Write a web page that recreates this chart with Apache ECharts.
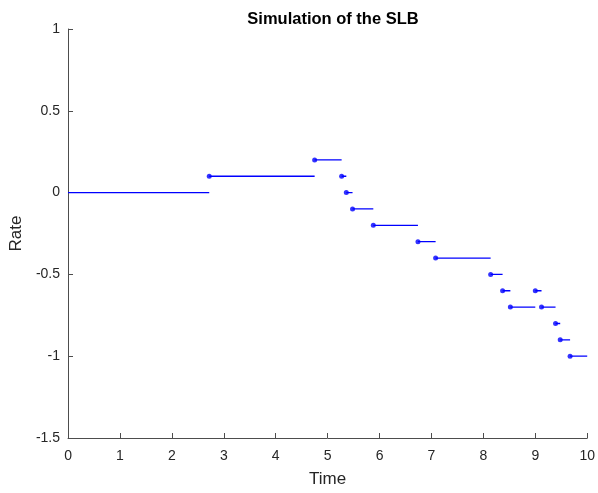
<!DOCTYPE html>
<html>
<head>
<meta charset="utf-8">
<script src="https://cdn.jsdelivr.net/npm/echarts@6/dist/echarts.min.js"></script>
<style>
  html, body { margin: 0; padding: 0; background: #fff; }
  #chart { width: 598px; height: 493px; }
</style>
</head>
<body>
<div id="chart"></div>
<script>
// step segments: start time, end time, rate
const starts = [0, 2.72, 4.75, 5.27, 5.36, 5.48, 5.88, 6.74, 7.08, 8.14, 8.37, 8.52, 9.00, 9.12, 9.39, 9.48, 9.67];
const ends   = [2.72, 4.75, 5.27, 5.36, 5.48, 5.88, 6.74, 7.08, 8.14, 8.37, 8.52, 9.00, 9.12, 9.39, 9.48, 9.67, 10];
const rates  = [0, 0.1, 0.2, 0.1, 0, -0.1, -0.2, -0.3, -0.4, -0.5, -0.6, -0.7, -0.6, -0.7, -0.8, -0.9, -1];
// first segment has no marker
const dotted = [false, true, true, true, true, true, true, true, true, true, true, true, true, true, true, true, true];

const xTicks = [0, 1, 2, 3, 4, 5, 6, 7, 8, 9, 10];
const yTicks = [-1.5, -1, -0.5, 0, 0.5, 1];

const lineData = [];
const dotData = [];
for (let i = 0; i < starts.length; i++) {
  lineData.push([starts[i], rates[i]]);
  lineData.push([ends[i], rates[i]]);
  lineData.push([ends[i], '-']);
  if (dotted[i]) dotData.push([starts[i], rates[i]]);
}

const textColor = '#262626';
const lineColor = '#4d4d4d';
const font = 'Liberation Sans, Arial, sans-serif';

const chart = echarts.init(document.getElementById('chart'), null, { renderer: 'canvas' });
chart.setOption({
  animation: false,
  backgroundColor: '#fff',
  title: {
    text: 'Simulation of the SLB',
    left: 328,
    textAlign: 'center',
    top: 6,
    textStyle: { fontFamily: font, fontSize: 16.5, fontWeight: 'bold', color: '#000' }
  },
  grid: { left: 67, right: 9, top: 29, bottom: 54 },
  xAxis: {
    type: 'value',
    min: 0, max: 10, interval: 1,
    name: 'Time',
    nameLocation: 'middle',
    nameGap: 33,
    nameTextStyle: { fontFamily: font, fontSize: 17, color: textColor },
    axisLine: { show: true, onZero: false, lineStyle: { color: lineColor, width: 1 } },
    axisTick: { show: true, inside: true, length: 5, lineStyle: { color: lineColor } },
    axisLabel: { fontFamily: font, fontSize: 14, color: textColor, margin: 11,
      formatter: v => xTicks.includes(v) ? String(v) : '' },
    splitLine: { show: false }
  },
  yAxis: {
    type: 'value',
    min: -1.5, max: 1, interval: 0.5,
    name: 'Rate',
    nameLocation: 'middle',
    nameGap: 42,
    nameTextStyle: { fontFamily: font, fontSize: 17, color: textColor },
    axisLine: { show: true, onZero: false, lineStyle: { color: lineColor, width: 1 } },
    axisTick: { show: true, inside: true, length: 5, lineStyle: { color: lineColor } },
    axisLabel: { fontFamily: font, fontSize: 14, color: textColor, margin: 8,
      formatter: v => yTicks.includes(v) ? String(v) : '' },
    splitLine: { show: false }
  },
  series: [
    {
      type: 'line',
      data: lineData,
      showSymbol: false,
      connectNulls: false,
      lineStyle: { color: '#0000ff', width: 1.3 },
      itemStyle: { color: '#0000ff' }
    },
    {
      type: 'scatter',
      data: dotData,
      symbol: 'circle',
      symbolSize: 5,
      itemStyle: { color: '#0000ff' }
    }
  ]
});
</script>
</body>
</html>
